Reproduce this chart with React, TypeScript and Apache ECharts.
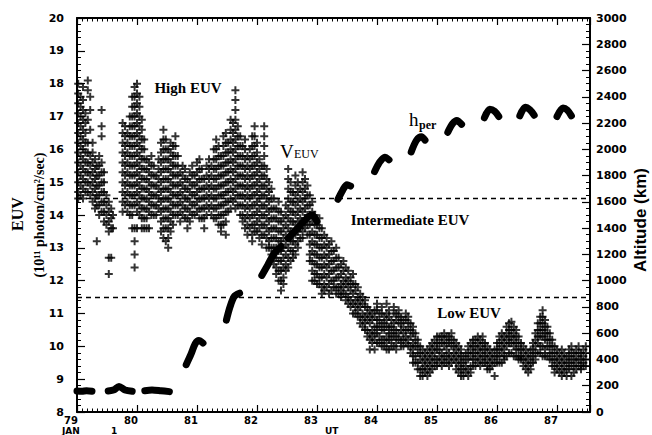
import React, { useEffect, useRef } from 'react';
import * as echarts from 'echarts';

// x tick labels (years, 1979 = "79")
const xTickValues = [79, 80, 81, 82, 83, 84, 85, 86, 87];
const xTickLabels = ['79', '80', '81', '82', '83', '84', '85', '86', '87'];

// EUV flux samples: [time, value, value, ...] (10^11 photon/cm2/sec)
const euv1979a: number[][] = [
  [79.02, 18.0, 17.7, 17.4, 17.1, 16.8, 16.5, 16.2, 15.9, 15.6, 15.3, 15.0, 14.7, 14.5],
  [79.06, 17.6, 17.3, 17.0, 16.7, 16.4, 16.1, 15.8, 15.5, 15.2, 14.9, 14.6],
  [79.10, 17.9, 17.5, 17.2, 16.9, 16.6, 16.3, 16.0, 15.7, 15.4, 15.1, 14.8, 14.5],
  [79.14, 17.1, 16.8, 16.5, 16.2, 15.9, 15.6, 15.3, 15.0, 14.7],
  [79.18, 18.1, 17.8, 16.9, 16.2, 15.9, 15.6, 15.3, 15.0, 14.7],
  [79.22, 17.6, 17.2, 16.6, 15.8, 15.5, 15.2, 14.9, 14.6],
  [79.26, 16.2, 15.9, 15.6, 15.3, 15.0, 14.7, 14.4],
  [79.30, 15.7, 15.4, 15.1, 14.8, 14.5, 14.2],
  [79.33, 15.5, 15.2, 14.9, 14.6, 14.3, 13.2],
  [79.37, 15.8, 15.5, 15.2, 14.9, 14.6, 14.3, 14.0],
  [79.41, 17.2, 16.7, 16.4, 15.6, 15.3, 15.0, 14.7, 14.4, 14.1],
  [79.45, 15.3, 15.0, 14.7, 14.4, 14.1, 13.8],
  [79.49, 14.6, 14.3, 14.0, 13.7],
  [79.53, 14.4, 14.1, 13.8, 13.5, 12.7, 12.2],
  [79.57, 14.2, 13.9, 13.6, 12.7],
  [79.60, 14.0, 13.6],
];

const euv1979b: number[][] = [
  [79.76, 16.8, 16.5, 16.2, 15.9, 15.6, 15.3, 15.0, 14.7, 14.4, 14.1],
  [79.80, 16.7, 16.4, 16.1, 15.8, 15.5, 15.2, 14.9, 14.6, 14.3],
  [79.84, 16.5, 16.2, 15.9, 15.6, 15.3, 15.0, 14.7, 14.4, 14.1],
  [79.88, 17.0, 16.7, 16.4, 16.1, 15.8, 15.5, 15.2, 14.9, 14.6, 14.3, 14.0],
  [79.92, 17.6, 17.3, 17.0, 16.7, 16.4, 16.1, 15.8, 15.5, 15.2, 14.9, 14.6, 14.3, 14.0, 13.6],
  [79.96, 17.9, 17.6, 17.3, 17.0, 16.7, 16.4, 16.1, 15.8, 15.5, 15.2, 14.9, 14.6, 14.3, 13.6, 13.2, 12.8, 12.4],
  [80.00, 18.0, 17.7, 17.4, 17.1, 16.8, 16.5, 16.2, 15.9, 15.6, 15.3, 15.0, 14.7, 14.4, 14.1, 13.6],
  [80.04, 17.6, 17.3, 17.0, 16.7, 16.4, 16.1, 15.8, 15.5, 15.2, 14.9, 14.6, 14.3, 14.0],
  [80.08, 16.9, 16.6, 16.3, 16.0, 15.7, 15.4, 15.1, 14.8, 14.5, 14.2, 13.9, 13.6],
  [80.12, 16.3, 16.0, 15.7, 15.4, 15.1, 14.8, 14.5, 14.2, 13.9, 13.6],
  [80.16, 15.7, 15.4, 15.1, 14.8, 14.5, 14.2, 13.9, 13.6],
  [80.20, 15.6, 15.3, 15.0, 14.7, 14.4, 14.1, 13.6],
  [80.24, 15.8, 15.5, 15.2, 14.9, 14.6, 14.3, 14.0],
  [80.28, 15.5, 15.2, 14.9, 14.6, 14.3, 14.0],
  [80.32, 15.2, 14.9, 14.6, 14.3, 14.0],
  [80.36, 15.7, 15.4, 15.1, 14.8, 14.5, 14.2],
];

const euv1980: number[][] = [
  [80.40, 16.2, 15.9, 15.6, 15.3, 15.0, 14.7, 14.4, 14.1, 13.8, 13.5],
  [80.44, 16.6, 16.3, 16.0, 15.7, 15.4, 15.1, 14.8, 14.5, 14.2, 13.9, 13.6, 13.3],
  [80.48, 16.3, 16.0, 15.7, 15.4, 15.1, 14.8, 14.5, 14.2, 13.9, 13.6, 13.2],
  [80.52, 16.0, 15.7, 15.4, 15.1, 14.8, 14.5, 14.2, 13.9, 13.6, 13.3, 13.0],
  [80.56, 16.2, 15.9, 15.6, 15.3, 15.0, 14.7, 14.4, 14.1, 13.8, 13.5],
  [80.60, 16.1, 15.8, 15.5, 15.2, 14.9, 14.6, 14.3, 14.0, 13.7],
  [80.64, 16.4, 16.1, 15.8, 15.5, 15.2, 14.9, 14.6, 14.3, 14.0],
  [80.68, 15.8, 15.5, 15.2, 14.9, 14.6, 14.3, 14.0],
  [80.72, 15.3, 15.0, 14.7, 14.4, 14.1, 13.8],
  [80.76, 15.5, 15.2, 14.9, 14.6, 14.3, 14.0],
  [80.80, 15.4, 15.1, 14.8, 14.5, 14.2, 13.9],
  [80.84, 15.1, 14.8, 14.5, 14.2, 13.9, 13.6],
  [80.88, 15.3, 15.0, 14.7, 14.4, 14.1, 13.8],
  [80.92, 15.5, 15.2, 14.9, 14.6, 14.3, 14.0],
  [80.96, 15.2, 14.9, 14.6, 14.3, 14.0],
  [81.00, 15.6, 15.3, 15.0, 14.7, 14.4, 14.1],
];

const euv1981: number[][] = [
  [81.04, 15.7, 15.4, 15.1, 14.8, 14.5, 14.2, 13.9],
  [81.08, 15.4, 15.1, 14.8, 14.5, 14.2, 13.9],
  [81.12, 15.1, 14.8, 14.5, 14.2, 13.9, 13.6],
  [81.16, 15.5, 15.2, 14.9, 14.6, 14.3, 14.0],
  [81.20, 15.7, 15.4, 15.1, 14.8, 14.5, 14.2],
  [81.24, 15.5, 15.2, 14.9, 14.6, 14.3, 14.0],
  [81.28, 16.0, 15.7, 15.4, 15.1, 14.8, 14.5, 14.2, 13.9],
  [81.32, 16.3, 16.0, 15.7, 15.4, 15.1, 14.8, 14.5, 14.2, 13.9],
  [81.36, 16.1, 15.8, 15.5, 15.2, 14.9, 14.6, 14.3, 14.0, 13.7],
  [81.40, 15.8, 15.5, 15.2, 14.9, 14.6, 14.3, 14.0, 13.7, 13.5],
  [81.44, 16.4, 16.1, 15.8, 15.5, 15.2, 14.9, 14.6, 14.3, 14.0, 13.7],
  [81.48, 16.5, 16.2, 15.9, 15.6, 15.3, 15.0, 14.7, 14.4, 14.1, 13.8, 13.4],
  [81.52, 16.2, 15.9, 15.6, 15.3, 15.0, 14.7, 14.4, 14.1],
  [81.56, 16.9, 16.6, 16.3, 16.0, 15.7, 15.4, 15.1, 14.8, 14.5, 14.2],
  [81.60, 16.8, 16.5, 16.2, 15.9, 15.6, 15.3, 15.0, 14.7, 14.4],
  [81.64, 17.8, 17.5, 17.2, 16.9, 16.6, 16.3, 16.0, 15.7, 15.4, 15.1, 14.8, 14.5, 14.2],
  [81.68, 16.7, 16.4, 16.1, 15.8, 15.5, 15.2, 14.9, 14.6, 14.3],
  [81.72, 16.4, 16.1, 15.8, 15.5, 15.2, 14.9, 14.6, 14.3, 14.0],
  [81.76, 16.1, 15.8, 15.5, 15.2, 14.9, 14.6, 14.3, 14.0, 13.8],
  [81.80, 16.3, 16.0, 15.7, 15.4, 15.1, 14.8, 14.5, 14.2, 13.9, 13.6],
  [81.84, 15.8, 15.5, 15.2, 14.9, 14.6, 14.3, 14.0, 13.7, 13.4],
  [81.88, 16.0, 15.7, 15.4, 15.1, 14.8, 14.5, 14.2, 13.9, 13.6],
  [81.92, 16.4, 16.1, 15.8, 15.5, 15.2, 14.9, 14.6, 14.3, 14.0, 13.7, 13.4, 13.2],
  [81.96, 16.7, 16.4, 16.1, 15.8, 15.5, 15.2, 14.9, 14.6, 14.3, 14.0, 13.7, 13.5],
  [82.00, 16.2, 15.9, 15.6, 15.3, 15.0, 14.7, 14.4, 14.1, 13.8, 13.5],
  [82.04, 15.7, 15.4, 15.1, 14.8, 14.5, 14.2, 13.9, 13.6, 13.3],
  [82.08, 15.5, 15.2, 14.9, 14.6, 14.3, 14.0, 13.7, 13.4, 13.1],
  [82.12, 16.7, 16.4, 16.1, 15.8, 15.5, 15.2, 14.9, 14.6, 14.3, 14.0, 13.7, 13.4],
  [82.16, 15.4, 15.1, 14.8, 14.5, 14.2, 13.9, 13.6, 13.3, 13.0],
  [82.20, 15.0, 14.7, 14.4, 14.1, 13.8, 13.5, 13.2, 13.0],
  [82.24, 14.8, 14.5, 14.2, 13.9, 13.6, 13.3, 13.0, 12.8],
  [82.28, 14.5, 14.2, 13.9, 13.6, 13.3, 13.0, 12.7, 12.5],
  [82.32, 14.2, 13.9, 13.6, 13.3, 13.0, 12.7, 12.4, 12.2],
  [82.36, 14.4, 14.1, 13.8, 13.5, 13.2, 12.9, 12.6, 12.3, 12.0],
  [82.40, 14.1, 13.8, 13.5, 13.2, 12.9, 12.6, 12.3, 12.0, 11.7],
  [82.44, 13.9, 13.6, 13.3, 13.0, 12.7, 12.4, 12.1, 11.9],
  [82.48, 14.3, 14.0, 13.7, 13.4, 13.1, 12.8, 12.5, 12.3],
];

const euv1982: number[][] = [
  [82.52, 15.4, 15.1, 14.8, 14.5, 14.2, 13.9, 13.6, 13.3, 13.0, 12.7, 12.4],
  [82.56, 15.0, 14.7, 14.4, 14.1, 13.8, 13.5, 13.2, 12.9, 12.6],
  [82.60, 14.7, 14.4, 14.1, 13.8, 13.5, 13.2, 12.9, 12.7],
  [82.64, 15.2, 14.9, 14.6, 14.3, 14.0, 13.7, 13.4, 13.1, 12.8],
  [82.68, 15.0, 14.7, 14.4, 14.1, 13.8, 13.5, 13.2, 13.0],
  [82.72, 14.8, 14.5, 14.2, 13.9, 13.6, 13.3],
  [82.76, 15.3, 15.0, 14.7, 14.4, 14.1, 13.8, 13.5, 13.3],
  [82.80, 15.1, 14.8, 14.5, 14.2, 13.9, 13.6],
  [82.84, 14.9, 14.6, 14.3, 14.0, 13.7, 13.4],
  [82.88, 14.6, 14.3, 14.0, 13.7, 13.4, 13.1, 12.8, 12.6],
  [82.92, 14.4, 14.1, 13.8, 13.5, 13.2, 12.9, 12.6, 12.3, 12.0],
  [82.96, 14.0, 13.7, 13.4, 13.1, 12.8, 12.5, 12.2, 12.0],
  [83.00, 13.7, 13.4, 13.1, 12.8, 12.5, 12.2, 11.9],
  [83.04, 13.9, 13.6, 13.3, 13.0, 12.7, 12.4, 12.1, 11.9],
  [83.08, 13.6, 13.3, 13.0, 12.7, 12.4, 12.1, 11.8, 11.6],
  [83.12, 13.4, 13.1, 12.8, 12.5, 12.2, 11.9, 11.7],
  [83.16, 13.3, 13.0, 12.7, 12.4, 12.1, 11.8],
  [83.20, 13.1, 12.8, 12.5, 12.2, 11.9, 11.6],
  [83.24, 13.2, 12.9, 12.6, 12.3, 12.0, 11.7],
  [83.28, 12.9, 12.6, 12.3, 12.0, 11.8],
  [83.32, 13.0, 12.7, 12.4, 12.1, 11.8, 11.6],
  [83.36, 12.7, 12.4, 12.1, 11.8, 11.6],
  [83.40, 12.5, 12.2, 11.9, 11.7, 11.5],
  [83.44, 12.6, 12.3, 12.0, 11.8, 11.6],
  [83.48, 12.4, 12.1, 11.9, 11.6, 11.4],
  [83.52, 12.3, 12.0, 11.8, 11.5, 11.3],
  [83.56, 12.1, 11.9, 11.7, 11.4, 11.2],
  [83.60, 12.2, 11.9, 11.6, 11.3, 11.0],
  [83.64, 11.9, 11.7, 11.4, 11.2, 11.0],
  [83.68, 11.8, 11.5, 11.3, 11.1, 10.9],
  [83.72, 11.6, 11.4, 11.2, 10.9, 10.7],
  [83.76, 11.5, 11.3, 11.0, 10.8, 10.6],
  [83.80, 11.4, 11.2, 10.9, 10.7, 10.5],
  [83.84, 11.2, 11.0, 10.8, 10.5, 10.3],
  [83.88, 11.1, 10.9, 10.7, 10.4, 10.2, 9.9],
  [83.92, 11.0, 10.8, 10.5, 10.3, 10.1],
  [83.96, 11.1, 10.9, 10.6, 10.4, 10.2, 9.9],
];

const euv1984: number[][] = [
  [84.00, 11.3, 11.1, 10.8, 10.6, 10.4, 10.1],
  [84.04, 11.0, 10.8, 10.6, 10.3, 10.1],
  [84.08, 11.2, 11.0, 10.7, 10.5, 10.2, 10.0],
  [84.12, 10.9, 10.7, 10.5, 10.2, 10.0],
  [84.16, 11.3, 11.0, 10.8, 10.6, 10.3, 10.1, 9.9],
  [84.20, 11.1, 10.9, 10.6, 10.4, 10.2, 9.9],
  [84.24, 10.8, 10.6, 10.4, 10.2, 10.0],
  [84.28, 11.2, 11.0, 10.7, 10.5, 10.3, 10.0],
  [84.32, 11.0, 10.8, 10.5, 10.3, 10.1, 9.9],
  [84.36, 11.1, 10.9, 10.7, 10.4, 10.2],
  [84.40, 10.9, 10.7, 10.5, 10.2, 10.0],
  [84.44, 10.8, 10.6, 10.4, 10.2, 10.0],
  [84.48, 11.0, 10.8, 10.5, 10.3, 10.1],
  [84.52, 10.9, 10.7, 10.5, 10.2, 10.0],
  [84.56, 10.7, 10.5, 10.3, 10.0, 9.8],
  [84.60, 10.6, 10.4, 10.1, 9.9, 9.7, 9.5],
  [84.64, 10.4, 10.2, 10.0, 9.7, 9.5],
  [84.68, 10.2, 10.0, 9.8, 9.5, 9.3],
  [84.72, 10.0, 9.8, 9.6, 9.3, 9.1],
  [84.76, 9.9, 9.7, 9.5, 9.3, 9.1],
  [84.80, 9.8, 9.6, 9.4, 9.2],
  [84.84, 9.9, 9.7, 9.5, 9.3, 9.1],
  [84.88, 10.0, 9.8, 9.6, 9.4, 9.2],
  [84.92, 10.1, 9.9, 9.7, 9.5, 9.3],
  [84.96, 10.2, 10.0, 9.8, 9.6, 9.4],
];

const euv1985: number[][] = [
  [85.00, 10.3, 10.1, 9.9, 9.6, 9.4],
  [85.04, 10.3, 10.1, 9.9, 9.7, 9.5],
  [85.08, 10.3, 10.1, 9.8, 9.6, 9.4],
  [85.12, 10.4, 10.2, 10.0, 9.7, 9.5],
  [85.16, 10.3, 10.1, 9.9, 9.7, 9.5],
  [85.20, 10.3, 10.1, 9.8, 9.6, 9.4],
  [85.24, 10.4, 10.2, 10.0, 9.7, 9.5],
  [85.28, 10.2, 10.0, 9.8, 9.6],
  [85.32, 10.1, 9.9, 9.7, 9.5, 9.3],
  [85.36, 10.0, 9.8, 9.6, 9.4, 9.2],
  [85.40, 9.9, 9.7, 9.5, 9.3, 9.1],
  [85.44, 9.7, 9.5, 9.3, 9.1],
  [85.48, 9.8, 9.6, 9.4, 9.2],
  [85.52, 10.0, 9.8, 9.6, 9.3, 9.1],
  [85.56, 10.1, 9.9, 9.7, 9.4, 9.2],
  [85.60, 10.2, 10.0, 9.8, 9.6, 9.4],
  [85.64, 10.2, 10.0, 9.8, 9.6, 9.4],
  [85.68, 10.3, 10.1, 9.9, 9.7, 9.5],
  [85.72, 10.2, 10.0, 9.8, 9.6, 9.4],
  [85.76, 10.3, 10.1, 9.9, 9.7, 9.5],
  [85.80, 10.1, 9.9, 9.7, 9.5],
  [85.84, 10.0, 9.8, 9.6, 9.4, 9.3],
  [85.88, 9.9, 9.7, 9.5, 9.3],
  [85.92, 9.8, 9.6, 9.4],
  [85.96, 9.9, 9.7, 9.5, 9.1],
];

const euv1986: number[][] = [
  [86.00, 10.1, 9.9, 9.7, 9.5],
  [86.04, 10.3, 10.1, 9.9, 9.7, 9.5],
  [86.08, 10.4, 10.2, 10.0, 9.8, 9.5],
  [86.12, 10.3, 10.1, 9.9, 9.7, 9.6],
  [86.16, 10.6, 10.4, 10.2, 10.0, 9.7],
  [86.20, 10.7, 10.5, 10.3, 10.1, 9.8],
  [86.24, 10.75, 10.5, 10.3, 10.1, 9.8],
  [86.28, 10.6, 10.4, 10.2, 10.0, 9.7],
  [86.32, 10.5, 10.3, 10.1, 9.9, 9.7],
  [86.36, 10.3, 10.1, 9.9, 9.7, 9.6],
  [86.40, 10.1, 9.9, 9.7, 9.6],
  [86.44, 10.0, 9.8, 9.6, 9.4],
  [86.48, 9.9, 9.7, 9.5, 9.3],
  [86.52, 9.8, 9.6, 9.4, 9.2],
  [86.56, 9.9, 9.7, 9.5, 9.3],
  [86.60, 10.1, 9.9, 9.7, 9.5],
  [86.64, 10.4, 10.2, 10.0, 9.8, 9.6],
  [86.68, 10.7, 10.5, 10.3, 10.1, 9.8],
  [86.72, 10.9, 10.7, 10.5, 10.3, 10.0, 9.8],
  [86.76, 11.1, 10.9, 10.7, 10.5, 10.3, 10.0, 9.7],
  [86.80, 10.8, 10.6, 10.4, 10.2, 9.9, 9.7],
  [86.84, 10.6, 10.4, 10.2, 10.0, 9.7],
  [86.88, 10.4, 10.2, 10.0, 9.8, 9.6],
  [86.92, 10.2, 10.0, 9.8, 9.6, 9.4],
  [86.96, 10.0, 9.8, 9.6, 9.4, 9.2],
];

const euv1987: number[][] = [
  [87.00, 9.9, 9.7, 9.5, 9.3],
  [87.04, 9.8, 9.6, 9.4, 9.2],
  [87.08, 9.9, 9.7, 9.5, 9.3, 9.1],
  [87.12, 9.8, 9.6, 9.4, 9.2],
  [87.16, 9.7, 9.5, 9.3, 9.1],
  [87.20, 9.9, 9.7, 9.5, 9.3],
  [87.24, 10.0, 9.8, 9.6, 9.4, 9.1],
  [87.28, 9.8, 9.6, 9.4, 9.2],
  [87.32, 9.9, 9.7, 9.5, 9.3],
  [87.36, 10.0, 9.8, 9.6, 9.4],
  [87.40, 9.8, 9.6, 9.4, 9.3],
  [87.44, 9.9, 9.7, 9.5, 9.4],
  [87.48, 10.0, 9.8, 9.6, 9.4],
];

// perigee altitude h_per segments: [time, km]
const hperSegments: number[][][] = [
  [[79.0, 160], [79.08, 158], [79.16, 162], [79.25, 158]],
  [[79.52, 160], [79.62, 170], [79.70, 195], [79.80, 168], [79.92, 158]],
  [[80.13, 162], [80.25, 168], [80.40, 162], [80.54, 155]],
  [[80.82, 360], [80.90, 440], [80.97, 520], [81.03, 545], [81.10, 525]],
  [[81.49, 700], [81.55, 800], [81.62, 880], [81.71, 905]],
  [[82.08, 1040], [82.18, 1120], [82.29, 1210], [82.40, 1260]],
  [[82.52, 1320], [82.70, 1410], [82.92, 1500], [83.00, 1450]],
  [[83.35, 1620], [83.43, 1690], [83.50, 1730], [83.56, 1720]],
  [[83.96, 1830], [84.04, 1900], [84.13, 1940], [84.20, 1920]],
  [[84.57, 1980], [84.66, 2070], [84.74, 2095], [84.80, 2070]],
  [[85.18, 2130], [85.26, 2195], [85.33, 2220], [85.41, 2190]],
  [[85.79, 2240], [85.88, 2305], [85.96, 2290], [86.03, 2250]],
  [[86.38, 2255], [86.47, 2320], [86.55, 2300], [86.62, 2260]],
  [[87.00, 2250], [87.10, 2315], [87.17, 2300], [87.24, 2255]],
];

// EUV regime boundaries
const euvThresholds = [14.5, 11.5];

const plusSymbol = 'path://M3,0H5V3H8V5H5V8H3V5H0V3H3Z';
const tickFont = 'DejaVu Sans';
const serif = 'Liberation Serif';

function buildOption() {
  const cols = [
    ...euv1979a, ...euv1979b, ...euv1980, ...euv1981,
    ...euv1982, ...euv1984, ...euv1985, ...euv1986, ...euv1987,
  ];
  const euvPoints: number[][] = [];
  cols.forEach(([t, ...vs]) => vs.forEach((v) => euvPoints.push([t, v])));

  const axisLineStyle = { color: '#000', width: 2 };
  const xLabel = (v: number) => {
    const r = Math.round(v);
    if (Math.abs(v - r) > 1e-6) return '';
    const i = xTickValues.indexOf(r);
    return i >= 0 ? xTickLabels[i] : '';
  };
  const baseX = {
    type: 'value',
    min: 79,
    max: 87.55,
    interval: 1,
    splitLine: { show: false },
    axisLine: { show: true, onZero: false, lineStyle: axisLineStyle },
    axisTick: { show: true, inside: true, length: 7, lineStyle: { color: '#000', width: 1.2 } },
    minorTick: { show: true, splitNumber: 12, length: 3.5, lineStyle: { color: '#000', width: 1 } },
    minorSplitLine: { show: false },
  };

  const hperSeries = hperSegments.map((seg) => ({
    type: 'line',
    xAxisIndex: 0,
    yAxisIndex: 1,
    data: seg,
    symbol: 'none',
    smooth: 0.3,
    z: 5,
    lineStyle: { color: '#000', width: 7, cap: 'round', join: 'round' },
  }));

  const txt = (x: number, y: number, text: string, font: string, align = 'center', vAlign = 'middle', rotation = 0) => ({
    type: 'text',
    x,
    y,
    rotation,
    style: { text, font, fill: '#000', align, verticalAlign: vAlign },
  });

  return {
    animation: false,
    backgroundColor: '#fff',
    grid: { left: 77, right: 62, top: 18, bottom: 23, containLabel: false },
    xAxis: [
      {
        ...baseX,
        position: 'bottom',
        axisLabel: {
          formatter: xLabel,
          margin: 3,
          color: '#000',
          fontFamily: tickFont,
          fontWeight: 'bold',
          fontSize: 10,
          padding: [0, 12, 0, 0],
          showMaxLabel: false,
        },
      },
      { ...baseX, position: 'top', axisLabel: { show: false } },
    ],
    yAxis: [
      {
        type: 'value',
        min: 8,
        max: 20,
        interval: 1,
        position: 'left',
        splitLine: { show: false },
        axisLine: { show: true, onZero: false, lineStyle: axisLineStyle },
        axisTick: { show: true, inside: true, length: 8, lineStyle: { color: '#000', width: 1.2 } },
        minorTick: { show: true, splitNumber: 5, length: 4, lineStyle: { color: '#000', width: 1 } },
        axisLabel: { margin: 13, color: '#000', fontFamily: tickFont, fontWeight: 'bold', fontSize: 11 },
      },
      {
        type: 'value',
        min: 0,
        max: 3000,
        interval: 200,
        position: 'right',
        splitLine: { show: false },
        axisLine: { show: true, onZero: false, lineStyle: axisLineStyle },
        axisTick: { show: true, inside: true, length: 8, lineStyle: { color: '#000', width: 1.2 } },
        minorTick: { show: true, splitNumber: 4, length: 4, lineStyle: { color: '#000', width: 1 } },
        axisLabel: {
          margin: 6,
          color: '#000',
          fontFamily: tickFont,
          fontWeight: 'bold',
          fontSize: 11,
          formatter: (v: number) => String(v),
        },
      },
    ],
    series: [
      {
        type: 'scatter',
        name: 'EUV',
        xAxisIndex: 0,
        yAxisIndex: 0,
        data: euvPoints,
        symbol: plusSymbol,
        symbolSize: 8,
        itemStyle: { color: '#000' },
        z: 3,
        markLine: {
          silent: true,
          symbol: ['none', 'none'],
          label: { show: false },
          lineStyle: { color: '#000', width: 1.3, type: [5, 4] },
          data: euvThresholds.map((v) => ({ yAxis: v })),
        },
      },
      ...hperSeries,
    ],
    graphic: [
      txt(17, 214, 'EUV', `bold 16px "${serif}"`, 'center', 'middle', Math.PI / 2),
      txt(39, 215, '(10¹¹ photon/cm²/sec)', `bold 14px "${serif}"`, 'center', 'middle', Math.PI / 2),
      txt(640, 220, 'Altitude (km)', 'bold 17px "Liberation Sans"', 'center', 'middle', Math.PI / 2),
      txt(188, 88, 'High EUV', `bold 15px "${serif}"`),
      txt(280, 161, 'V', `19px "${serif}"`, 'left', 'bottom'),
      txt(294, 160, 'EUV', `12px "${serif}"`, 'left', 'bottom'),
      txt(409, 129, 'h', `19px "${serif}"`, 'left', 'bottom'),
      txt(419, 131, 'per', `bold 12px "${serif}"`, 'left', 'bottom'),
      txt(410, 220, 'Intermediate EUV', `bold 15px "${serif}"`),
      txt(469, 313, 'Low EUV', `bold 15px "${serif}"`),
      txt(62, 431, 'JAN', `bold 9px "${tickFont}"`, 'left'),
      txt(111, 431, '1', `bold 9px "${tickFont}"`, 'left'),
      txt(325, 431, 'UT', `bold 9px "${tickFont}"`, 'left'),
    ],
  };
}

export default function App() {
  const ref = useRef<HTMLDivElement>(null);
  useEffect(() => {
    if (!ref.current) return;
    const chart = echarts.init(ref.current, undefined, { renderer: 'svg' });
    chart.setOption(buildOption() as any);
    return () => chart.dispose();
  }, []);
  return (
    <div
      ref={ref}
      style={{ position: 'absolute', left: 0, top: 0, width: 652, height: 435, background: '#fff' }}
    />
  );
}
